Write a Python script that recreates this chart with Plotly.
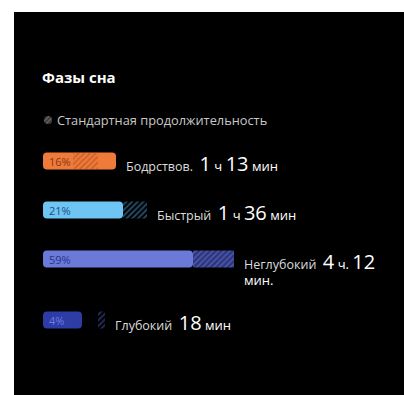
import re
import plotly.graph_objects as go

# ---- data ----
phases = ["Бодрствов.", "Быстрый", "Неглубокий", "Глубокий"]
percents = [16, 21, 59, 4]
durations = ["1 ч 13 мин", "1 ч 36 мин", "4 ч. 12 мин.", "18 мин"]
bar_len = [73, 80, 150, 39]          # displayed bar length
norm_lo = [30, 80, 150, 55]          # standard range (hatched) start
norm_hi = [55, 104, 191, 62]         # standard range end
title = "Фазы сна"
legend_text = "Стандартная продолжительность"

# ---- styles ----
bar_colors = ["#EF7B3A", "#6EC4F2", "#6B79D8", "#2E3CA6"]
text_colors = ["#8A3512", "#1D4F86", "#28358E", "#6C7BE0"]
hatch_fg = ["#A9461A", "#4FA2D6", "#6B79D8", "#4A5BC8"]
hatch_bg = ["rgba(0,0,0,0)", "rgba(0,0,0,0)", "#2C347A", "rgba(0,0,0,0)"]
FONT = "Open Sans"
X0 = 43          # left edge of bars in px
W, H = 404, 395

def wrapped(i):
    return X0 + max(bar_len[i], norm_hi[i]) > 220

row_y = []
y = 161
for i in range(len(phases)):
    row_y.append(y)
    y += 49 + (12 if wrapped(i) else 0)

fig = go.Figure()

# black panel
fig.add_shape(type="rect", xref="paper", yref="paper", x0=14 / W, x1=1, y0=0, y1=1 - 12 / H,
              fillcolor="#000000", line_width=0, layer="below")

# main bars
for i in range(len(phases)):
    fig.add_trace(go.Bar(
        y=[row_y[i]], x=[bar_len[i]], base=[0], orientation="h", width=17,
        marker=dict(color=bar_colors[i], cornerradius=4, line_width=0),
        hoverinfo="skip", showlegend=False,
    ))
    fig.add_annotation(
        x=4, y=row_y[i], xanchor="left", yanchor="middle", text=f"{percents[i]}%",
        showarrow=False, font=dict(family=FONT, size=11, color=text_colors[i]),
    )

# hatched standard ranges
for i in range(len(phases)):
    fig.add_trace(go.Bar(
        y=[row_y[i]], x=[norm_hi[i] - norm_lo[i]], base=[norm_lo[i]], orientation="h", width=17,
        marker=dict(color=hatch_fg[i], line_width=0, cornerradius=0,
                    pattern=dict(shape="/", fgcolor=hatch_fg[i], bgcolor=hatch_bg[i],
                                 size=4, solidity=0.45)),
        hoverinfo="skip", showlegend=False,
    ))

# legend key (hatched dot)
fig.add_trace(go.Bar(
    y=[120], x=[8], base=[44 - X0], orientation="h", width=8,
    marker=dict(color="#8a8a8a", line_width=0, cornerradius=4,
                pattern=dict(shape="/", fgcolor="#a0a0a0", bgcolor="#303030", size=3, solidity=0.5)),
    hoverinfo="skip", showlegend=False,
))

# labels
def big_digits(s):
    return re.sub(r"(\d+)", r"<span style='font-size:20px'>\1</span>", s)

for i in range(len(phases)):
    d = durations[i]
    if wrapped(i):
        parts = d.rsplit(" ", 1)
        dur_html = big_digits(parts[0]) + "<br>" + parts[1]
    else:
        dur_html = big_digits(d)
    txt = (f"<span style='color:#dcdcdc'>{phases[i]}</span>  "
           f"<span style='color:#ffffff;font-size:13px'>{dur_html}</span>")
    fig.add_annotation(
        x=max(bar_len[i], norm_hi[i]) + 8, y=row_y[i] - 13, xanchor="left", yanchor="top",
        text=txt, showarrow=False, align="left",
        font=dict(family=FONT, size=12.5, color="#dcdcdc"),
    )

# title and legend
fig.add_annotation(x=40 - X0, y=77, xanchor="left", yanchor="middle", text=f"<b>{title}</b>",
                   showarrow=False, font=dict(family=FONT, size=15, color="#ffffff"))
fig.add_annotation(x=55 - X0, y=120, xanchor="left", yanchor="middle", text=legend_text,
                   showarrow=False, font=dict(family=FONT, size=12.8, color="#c8c8c8"))

fig.update_layout(
    width=W, height=H, margin=dict(l=0, r=0, t=0, b=0),
    paper_bgcolor="#ffffff", plot_bgcolor="rgba(0,0,0,0)",
    barmode="overlay",
    xaxis=dict(range=[-X0, W - X0], visible=False, fixedrange=True),
    yaxis=dict(range=[H, 0], visible=False, fixedrange=True),
    showlegend=False,
)

fig.write_html("out.html", config={"displayModeBar": False})
